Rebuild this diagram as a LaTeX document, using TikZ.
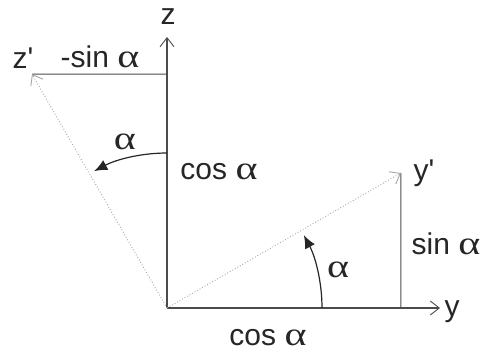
\documentclass[tikz,border=0pt]{standalone}
\usepackage{fontspec}
\usepackage{graphicx}
\setmainfont{Liberation Sans}[Ligatures=TeXOff]
\newfontfamily\grk{Liberation Serif}
\usetikzlibrary{arrows.meta,calc}
\newcommand{\alp}{\scalebox{1.4}[1.1]{\grk α}}
\begin{document}
\begin{tikzpicture}[x=1pt,y=1pt,
  axis/.style={draw=black!70,line width=1.1pt,-{Straight Barb[length=9pt,width=14pt,line width=0.9pt]}},
  rot/.style={draw=black!35,line width=0.9pt,dotted,-{Straight Barb[length=9pt,width=14pt,line width=0.9pt]}},
  proj/.style={draw=black!70,line width=1.1pt},
  angarc/.style={draw=black!85,line width=1.2pt,-{Latex[length=13pt,width=11pt]}},
  lbl/.style={inner sep=0pt,text=black!85,font=\fontsize{30}{34}\selectfont}]
\useasboundingbox (0,0) rectangle (482,354);
\coordinate (O) at (167,46);
\coordinate (Z) at (167,317);
\coordinate (Y) at (440,46);
\coordinate (Yp) at ($(O)+(30:270)$);
\coordinate (Zp) at ($(O)+(120:270)$);
\coordinate (Zh) at (167,279.8);
\coordinate (Yv) at (400.8,46);
\draw[axis] (O) -- (Z);
\draw[axis] (O) -- (Y);
\draw[proj] (Zh) -- (Zp);
\draw[proj] (Yv) -- (Yp);
\draw[rot] (O) -- (Yp);
\draw[rot] (O) -- (Zp);
\draw[angarc] (O) ++(0:155) arc[start angle=0,end angle=28,radius=155];
\draw[angarc] (O) ++(90:155) arc[start angle=90,end angle=118,radius=155];
\node[lbl] (lz) at (168,337) {z};
\node[lbl] (lzp) at (23,296) {z'};
\node[lbl] (lmsin) at (100,297) {-sin \alp};
\node[lbl] (la1) at (125,212) {\alp};
\node[lbl] (lcos1) at (219,182) {cos \alp};
\node[lbl] (lyp) at (424,181) {y'};
\node[lbl] (lsin) at (446,110) {sin \alp};
\node[lbl] (la2) at (338,84) {\alp};
\node[lbl] (ly) at (452,42) {y};
\node[lbl] (lcos2) at (268,16) {cos \alp};
\end{tikzpicture}
\end{document}
